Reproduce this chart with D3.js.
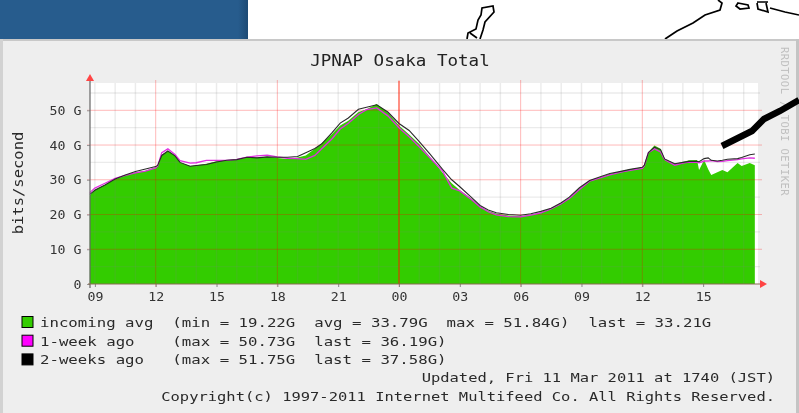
<!DOCTYPE html>
<html><head><meta charset="utf-8">
<script src="https://cdn.jsdelivr.net/npm/d3@7/dist/d3.min.js"></script>
<style>
html,body{margin:0;padding:0;background:#fff;overflow:hidden}
svg{display:block}
text{font-family:"DejaVu Sans Mono",monospace;white-space:pre}
</style></head><body>
<svg id="c" width="799" height="413"></svg>
<script>
const hours=[8.75,9,9.5,10,10.5,11,11.5,12,12.1,12.3,12.6,12.95,13.2,13.7,14,14.5,15,15.5,16,16.5,17,17.5,18,18.5,19,19.4,19.85,20.2,20.7,21.1,21.5,22,22.4,22.9,23.45,24,24.5,25,25.5,26.15,26.6,27,27.6,28,28.4,28.8,29.4,30,30.5,31,31.5,32,32.4,32.9,33.4,34,34.4,35,35.4,36,36.1,36.3,36.6,36.9,37.1,37.6,38,38.3,38.7,38.8,39.05,39.25,39.4,39.7,39.95,40.2,40.7,40.9,41.3,41.55];
const incoming=[25.5,27.2,28.6,30.2,31.2,32.1,32.6,33.6,34.2,37.2,38.3,37,35,34,34.2,34.6,35.3,35.5,35.9,36.4,36.4,36.6,36.3,36,36.4,37,38.9,40.6,43.2,45.6,47,49.5,50.3,51.8,49.4,45.6,43,40.3,36.8,32,29,27,24.5,22.2,21,20.3,19.7,19.5,19.9,20.6,21.6,23.2,24.8,27.5,29.8,30.8,31.7,32.5,33,33.6,34.2,38,39.9,38.9,36,34.6,35.1,35.6,35.7,32.8,35.7,33,31.4,32.2,32.8,32.2,34.8,34,34.8,34.2];
const weekAgo=[26.3,27.6,29,30.4,31.3,32,32.5,33.4,34,37.8,38.9,37.3,35.5,34.8,34.9,35.6,35.6,35.6,35.9,36.5,36.9,37.1,36.6,36.2,36.1,35.9,37,39,41.8,44.6,46.3,48.8,50.2,50.7,48.4,45,42.4,39.5,36.5,32.5,27.6,26.8,24.2,22.2,20.8,19.9,19.4,19.3,19.8,20.5,21.6,23.1,24.6,27.2,29.6,30.7,31.4,32.3,32.7,33.3,34,37.8,38.9,38,35.8,34.2,34.8,35.1,35,34.9,35.4,35.4,35.5,35.2,35.3,35.5,35.8,36,36.3,36.2];
const twoWeeksAgo=[25.8,27,28.5,30.2,31.4,32.4,33.1,33.8,34.2,37,38.3,36.9,35,33.9,34.1,34.4,35.1,35.6,35.8,36.5,36.3,36.6,36.5,36.5,36.7,37.8,39,40.4,43.6,46.3,47.8,50.3,50.9,51.6,49.5,46.2,44.2,41,37.6,33,30,28,24.8,22.6,21.3,20.5,20,19.8,20.2,20.9,21.8,23.4,25,27.7,29.8,31,31.8,32.5,33,33.6,34.2,37.8,39.4,38.7,36,34.6,35,35.3,35.3,35.2,36.1,36.3,35.6,35.4,35.6,35.9,36.1,36.4,37.2,37.4];
const labelHours=[9,12,15,18,21,24,27,30,33,36,39];
const labelText=["09","12","15","18","21","00","03","06","09","12","15"];
const yTicks=[0,10,20,30,40,50];
const legendRows=[
 ["#33cc00","incoming avg  (min = 19.22G  avg = 33.79G  max = 51.84G)  last = 33.21G"],
 ["#ff00ff","1-week ago    (max = 50.73G  last = 36.19G)"],
 ["#000000","2-weeks ago   (max = 51.75G  last = 37.58G)"]];
const footer=["Updated, Fri 11 Mar 2011 at 1740 (JST)","Copyright(c) 1997-2011 Internet Multifeed Co. All Rights Reserved."];

const svg=d3.select("#c");
// page behind the graph
const grad=svg.append("defs").append("linearGradient").attr("id","blue");
grad.append("stop").attr("offset","0.96").attr("stop-color","#275c8d");
grad.append("stop").attr("offset","1").attr("stop-color","#1d4a74");
svg.append("rect").attr("x",0).attr("y",0).attr("width",248).attr("height",40).attr("fill","url(#blue)");
const map=svg.append("g").attr("fill","none").attr("stroke","#000").attr("stroke-width",1.7);
map.append("path").attr("d","M467,39 L468,33 L476,29 L478,20 L481,15 L482,8 L493,6 L494,12 L485,22 L483,30 L480,39 M470,33 L477,38");
map.append("path").attr("d","M665,39 L677,31 L693,23 L705,15 L720,10 L722,3 L718,0");
map.append("path").attr("d","M738,3 L748,5 L749,8 L740,9 L736,6 Z M757,2 L768,2 M757,3 L758,9 L768,12 L766,3 M770,8 L785,12 L799,15");

// panel
const panel=svg.append("g");
panel.append("rect").attr("x",0).attr("y",39).attr("width",799).attr("height",374).attr("fill","#eeeeee");
panel.append("rect").attr("x",0).attr("y",39).attr("width",799).attr("height",2).attr("fill","#c8c8c8");
panel.append("rect").attr("x",0).attr("y",39).attr("width",3).attr("height",374).attr("fill","#d2d2d2");
panel.append("rect").attr("x",796).attr("y",39).attr("width",3).attr("height",374).attr("fill","#c4c4c4");

const pLeft=90,pRight=758,pTop=83,pBottom=284;
const x=d3.scaleLinear().domain([12,24]).range([155.7,399]);
const y=d3.scaleLinear().domain([0,50]).range([pBottom,110.3]);
const g=svg.append("g").style("filter","blur(0.45px)");
g.append("rect").attr("x",pLeft).attr("y",pTop).attr("width",pRight-pLeft).attr("height",pBottom-pTop).attr("fill","#fff");

const pts=hours.map((h,i)=>({h,a:incoming[i],b:weekAgo[i],c:twoWeeksAgo[i]}));
g.append("path").datum(pts).attr("fill","#33cc00")
 .attr("d",d3.area().x(d=>x(d.h)).y0(y(0)).y1(d=>y(d.a)));

// grid
const minorH=d3.range(9,42).filter(h=>(h%6)!==0);
const majorH=[12,18,24,30,36];
const grid=g.append("g");
grid.selectAll(".vm").data(minorH).join("line").attr("x1",d=>x(d)).attr("x2",d=>x(d)).attr("y1",pTop).attr("y2",pBottom).attr("stroke","#808080").attr("stroke-width",1.4).attr("stroke-opacity",.16);
grid.selectAll(".hm").data(d3.range(5,60,10)).join("line").attr("x1",pLeft).attr("x2",760).attr("y1",d=>y(d)).attr("y2",d=>y(d)).attr("stroke","#808080").attr("stroke-width",1.4).attr("stroke-opacity",.16);
grid.selectAll(".vM").data(majorH).join("line").attr("x1",d=>x(d)).attr("x2",d=>x(d)).attr("y1",pTop-3).attr("y2",pBottom+3).attr("stroke","#ff0000").attr("stroke-opacity",.28);
grid.selectAll(".hM").data(yTicks.slice(1)).join("line").attr("x1",pLeft-3).attr("x2",762).attr("y1",d=>y(d)).attr("y2",d=>y(d)).attr("stroke","#ff0000").attr("stroke-opacity",.28);
grid.append("line").attr("x1",x(24)).attr("x2",x(24)).attr("y1",pTop-2).attr("y2",pBottom).attr("stroke","#ff2000").attr("stroke-width",1.6).attr("stroke-opacity",.5);

// history lines
const line=k=>d3.line().x(d=>x(d.h)).y(d=>y(d[k]));
g.append("path").datum(pts).attr("fill","none").attr("stroke","#e030e0").attr("stroke-width",1.3).attr("d",line("b"));
g.append("path").datum(pts).attr("fill","none").attr("stroke","#2a2a2a").attr("stroke-width",1.1).attr("d",line("c"));

// axes
const ax=g.append("g").attr("transform",`translate(0,${pBottom})`)
 .call(d3.axisBottom(x).tickValues(labelHours).tickFormat((d,i)=>labelText[i]).tickSize(3).tickPadding(5));
ax.select(".domain").remove();
ax.selectAll("line").attr("stroke","#888");
ax.selectAll("text").attr("font-size",12.5).attr("transform","scale(1.06,1)").attr("fill","#333").attr("font-family","DejaVu Sans Mono");
const ay=g.append("g").attr("transform",`translate(${pLeft},0)`)
 .call(d3.axisLeft(y).tickValues(yTicks).tickFormat(d=>d===0?"0":d+" G").tickSize(3).tickPadding(5));
ay.select(".domain").remove();
ay.selectAll("line").attr("stroke","#999");
ay.selectAll("text").attr("font-size",12.5).attr("transform","scale(1.06,1)").attr("fill","#333").attr("font-family","DejaVu Sans Mono");
g.append("line").attr("x1",pLeft).attr("x2",pLeft).attr("y1",pBottom+4).attr("y2",pTop-4).attr("stroke","#666").attr("stroke-width",1.2);
g.append("line").attr("x1",pLeft-2).attr("x2",762).attr("y1",pBottom).attr("y2",pBottom).attr("stroke","#8a6a50").attr("stroke-width",1.2);
g.append("path").attr("d",`M${pLeft-4},${pTop-2} L${pLeft+4},${pTop-2} L${pLeft},${pTop-9} Z`).attr("fill","#f44");
g.append("path").attr("d",`M760,${pBottom-4} L760,${pBottom+4} L767,${pBottom} Z`).attr("fill","#f44");

// texts
g.append("text").attr("transform","translate(400,66) scale(1.17,1)").attr("text-anchor","middle").attr("font-size",15).attr("fill","#222").text("JPNAP Osaka Total");
g.append("text").attr("transform","translate(23,183) rotate(-90) scale(1.15,1)").attr("text-anchor","middle").attr("font-size",13.5).attr("fill","#2a2a2a").text("bits/second");
g.append("text").attr("transform","translate(781,47) rotate(90)").attr("font-size",10.5).attr("letter-spacing",.45).attr("fill","#c0c0c0").text("RRDTOOL / TOBI OETIKER");
const rows=g.selectAll(".row").data(legendRows).join("g").attr("transform",(d,i)=>`translate(0,${327+i*18.7})`);
rows.append("rect").attr("x",22).attr("y",-10.5).attr("width",11).attr("height",11).attr("fill",d=>d[0]).attr("stroke","#000").attr("stroke-width",1);
rows.append("text").attr("transform","translate(40,0) scale(1.21,1)").attr("font-size",13).attr("fill","#2a2a2a").text(d=>d[1]);
g.selectAll(".foot").data(footer).join("text").attr("transform",(d,i)=>`translate(775,${382+i*19}) scale(1.19,1)`).attr("text-anchor","end").attr("font-size",13).attr("fill","#2a2a2a").text(d=>d);

// thick stroke of the page's map passing over the graph
svg.append("path").attr("d","M722,146 L752,131 L764,119 L780,111 L799,100").attr("fill","none").attr("stroke","#000").attr("stroke-width",6.5);
</script></body></html>
